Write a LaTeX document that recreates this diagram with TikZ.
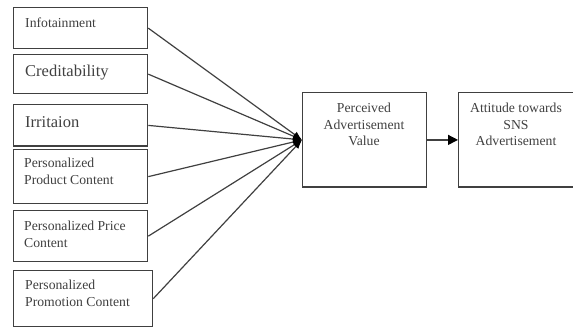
\documentclass[tikz,border=0pt]{standalone}
\usepackage{fontspec}
\setmainfont{Liberation Serif}
\usetikzlibrary{arrows.meta}
\definecolor{ln}{gray}{0.25}
\definecolor{tx}{gray}{0.25}
\begin{document}
\begin{tikzpicture}[x=1pt,y=-1pt,
  box/.style={draw=ln,line width=1.3pt,anchor=north west,inner sep=0pt},
  lbl/.style={text=tx,inner sep=0pt,font=\fontsize{13.7}{16.8}\selectfont},
  big/.style={text=tx,inner sep=0pt,font=\fontsize{16.5}{19}\selectfont},
  conn/.style={draw=ln,line width=1.2pt,-{Latex[length=9pt,width=7pt,color=black]}},
  main/.style={draw=ln,line width=1.3pt,-{Triangle[length=10pt,width=10pt,color=black]}}]
\useasboundingbox (0,0) rectangle (573,328);
\node[box,minimum width=134,minimum height=41] (b1) at (13,7) {};
\node[box,minimum width=134,minimum height=39] (b2) at (13,54) {};
\node[box,minimum width=134,minimum height=41.5] (b3) at (13,104) {};
\node[box,minimum width=134.5,minimum height=54] (b4) at (12.5,149) {};
\node[box,minimum width=134,minimum height=51] (b5) at (13,210) {};
\node[box,minimum width=139,minimum height=56] (b6) at (13,270) {};
\node[box,minimum width=124,minimum height=94.5] (pav) at (302,92) {};
\node[box,minimum width=120,minimum height=94.5] (att) at (458,92) {};
\node[lbl,anchor=base west] (t1) at (25,28) {Infotainment};
\node[big,anchor=base west] (t2) at (25,77) {Creditability};
\node[big,anchor=base west] (t3) at (25,128) {Irritaion};
\node[lbl,anchor=north west,align=left] (t4) at (24,157.5) {Personalized\\Product Content};
\node[lbl,anchor=north west,align=left] (t5) at (24,220.5) {Personalized Price\\Content};
\node[lbl,anchor=north west,align=left] (t6) at (25,279.5) {Personalized\\Promotion Content};
\node[lbl,anchor=north,align=center] (t7) at (364,102.5) {Perceived\\Advertisement\\Value};
\node[lbl,anchor=north,align=center] (t8) at (516,102.5) {Attitude towards\\SNS\\Advertisement};
\foreach \b in {b1,b2,b3,b4,b5,b6}
  \draw[conn] (\b.east) -- (pav.west);
\draw[main] (pav.east) -- (att.west);
\end{tikzpicture}
\end{document}
